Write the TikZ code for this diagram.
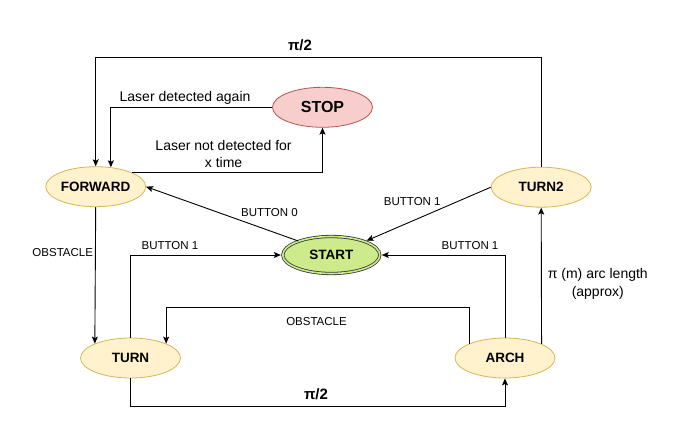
\documentclass[tikz,border=0pt]{standalone}
\usepackage{fontspec}
\setmainfont{Liberation Sans}
\usepackage{tikz}
\usetikzlibrary{arrows.meta,shapes}
\definecolor{modefill}{HTML}{FFF2CC}
\definecolor{modedraw}{HTML}{D6B656}
\definecolor{stopfill}{HTML}{F8CECC}
\definecolor{stopdraw}{HTML}{B85450}
\definecolor{startfill}{HTML}{CDEB8B}
\definecolor{startdraw}{HTML}{36393D}

\begin{document}
\begin{tikzpicture}[x=1pt,y=-1pt,->,>={Stealth[length=7pt,width=6pt,inset=1.5pt]},line width=0.9pt]
 \tikzstyle{mode}=[ellipse,draw=modedraw,fill=modefill,line width=0.8pt,minimum width=100pt,minimum height=40pt,inner sep=0pt,font=\fontsize{13.5}{16}\selectfont\bfseries]
 \tikzstyle{lbl}=[inner sep=2pt,font=\fontsize{11.5}{14}\selectfont]
 \tikzstyle{lbl big}=[inner sep=2pt,align=center,font=\fontsize{14}{17}\selectfont]
 \tikzstyle{angle lbl}=[inner sep=2pt,font=\fontsize{15}{18}\selectfont\bfseries]

 \useasboundingbox (0,0) rectangle (693,446);

   \node[mode] (forward) at (95.7,186.7) {FORWARD};
   \node[mode,draw=stopdraw,fill=stopfill,font=\fontsize{16}{19}\selectfont\bfseries] (stop) at (322.5,107.3) {STOP};
   \node[mode,draw=startdraw,fill=startfill,double=startfill,double distance=1.6pt,minimum width=97pt,minimum height=37pt] (start) at (331.3,255) {START};
   \node[mode] (turn2) at (541.2,187.2) {TURN2};
   \node[mode] (turn) at (130.5,358) {TURN};
   \node[mode] (arch) at (505,358) {ARCH};

   \coordinate (upper) at (300,57.3);
   \coordinate (obst) at (316.5,307.3);
   \coordinate (lower) at (316,406.7);

   \draw (turn2) |- (upper) node[angle lbl,above=4pt] {π/2} -| (forward);
   \draw (stop) -| node[lbl big,above,pos=0.27] {Laser detected again} (forward.52);
   \draw (forward.21) -| node[lbl big,above=3pt,pos=0.24] {Laser not detected for\\x time} (stop);
   \draw (forward.south) -- node[lbl,left,pos=0.33] {OBSTACLE} (turn.158);
   \draw (start.157) -- node[lbl,above=12pt,pos=0.19] {BUTTON 0} (forward.east);
   \draw[shorten >=1.6pt] (turn2.west) -- node[lbl,above left,pos=0.38] {BUTTON 1} (start.22);
   \draw[shorten >=1.6pt] (turn) |- node[lbl,above=3pt,pos=0.63] {BUTTON 1} (start);
   \draw[shorten >=1.6pt] (arch) |- node[lbl,above=3pt,pos=0.64] {BUTTON 1} (start);
   \draw (arch.21) -- node[lbl big,right=4pt,pos=0.44,font=\fontsize{14}{18}\selectfont] {π (m) arc length\\(approx)} (turn2.south);
   \draw (arch.158) |- (obst) node[lbl,below=8pt] {OBSTACLE} -| (turn.22);
   \draw (turn) |- (lower) node[angle lbl,above=4pt] {π/2} -| (arch);

\end{tikzpicture}
\end{document}
